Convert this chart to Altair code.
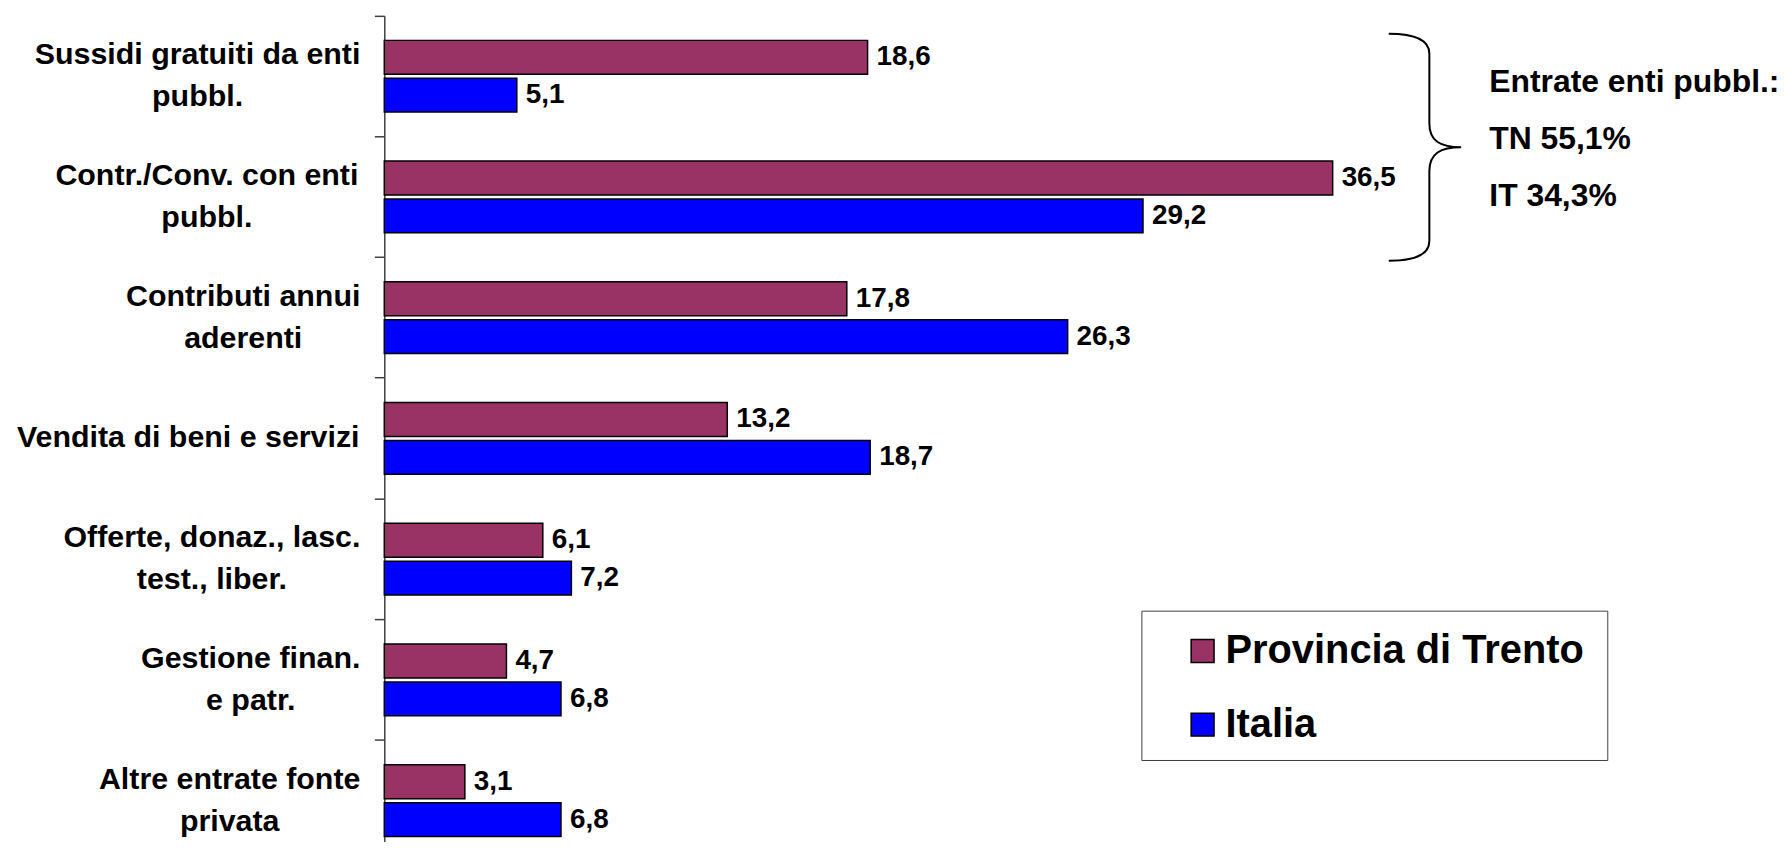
import altair as alt
import pandas as pd

# ---------------- data ----------------
categories = [
    "Sussidi gratuiti da enti\npubbl.",
    "Contr./Conv. con enti\npubbl.",
    "Contributi annui\naderenti",
    "Vendita di beni e servizi",
    "Offerte, donaz., lasc.\ntest., liber.",
    "Gestione finan.\ne patr.",
    "Altre entrate fonte\nprivata",
]
series = ["Provincia di Trento", "Italia"]
trento = [18.6, 36.5, 17.8, 13.2, 6.1, 4.7, 3.1]
italia = [5.1, 29.2, 26.3, 18.7, 7.2, 6.8, 6.8]
colors = ["#993366", "#0000FF"]
note_lines = ["Entrate enti pubbl.:", "TN 55,1%", "IT 34,3%"]

FONT = "Liberation Sans, Arial, Helvetica, sans-serif"

# Arial/Helvetica Bold advance widths (per 1000 em) used to centre the
# multi-line category labels as a block right-aligned against the axis
AW = {" ": 278, "%": 889, ",": 278, ".": 278, "/": 278, ":": 333,
      "A": 722, "B": 722, "C": 722, "D": 722, "E": 667, "F": 611, "G": 778,
      "H": 722, "I": 278, "L": 611, "N": 722, "O": 778, "P": 667, "S": 667,
      "T": 611, "V": 667,
      "a": 556, "b": 611, "c": 556, "d": 611, "e": 556, "f": 333, "g": 611,
      "h": 611, "i": 278, "j": 278, "k": 556, "l": 278, "m": 889, "n": 611,
      "o": 611, "p": 611, "q": 611, "r": 389, "s": 556, "t": 333, "u": 611,
      "v": 556, "w": 778, "x": 556, "y": 556, "z": 500}
for d in "0123456789":
    AW[d] = 556


def text_w(s, size):
    return sum(AW.get(c, 556) for c in s) * size / 1000.0


LABEL_SIZE = 30.5
LABEL_LH = 42
LABEL_GAP = 24  # distance between right edge of label block and axis

rows = []
for c, t, i in zip(categories, trento, italia):
    for s, v in zip(series, (t, i)):
        rows.append({"cat": c, "serie": s, "val": v,
                     "lab": f"{v:.1f}".replace(".", ",")})
df = pd.DataFrame(rows)

lab_df = pd.DataFrame({
    "cat": categories,
    "lx": [-LABEL_GAP - max(text_w(l, LABEL_SIZE) for l in c.split("\n")) / 2
           for c in categories],
    "nl": [len(c.split("\n")) for c in categories],
})

# ---------------- layout ----------------
W, H = 1397, 828
PX_PER_UNIT = 26.1
XMAX = W / PX_PER_UNIT
BAND_RANGE = 849

yscale = alt.Scale(domain=categories, paddingInner=0, paddingOuter=0,
                   range=[0, BAND_RANGE])
yaxis = alt.Axis(labels=False, title=None, bandPosition=0, tickSize=10,
                 tickColor="#404040", tickWidth=1.5, domainColor="#404040",
                 domainWidth=1.5, grid=False)
Y = alt.Y("cat:N", sort=categories, scale=yscale, axis=yaxis)
YO = alt.YOffset("serie:N", sort=series,
                 scale=alt.Scale(domain=series, paddingInner=0.105,
                                 paddingOuter=0.6485))
X = alt.X("val:Q", scale=alt.Scale(domain=[0, XMAX], nice=False, zero=True),
          axis=None)

legend = alt.Legend(orient="none", legendX=802, legendY=618, title=None,
                    direction="vertical", symbolType="square", symbolSize=529,
                    symbolStrokeColor="black", symbolStrokeWidth=1.5,
                    symbolOpacity=1, labelFontSize=40, labelFont=FONT,
                    labelFontWeight="bold", labelColor="black", labelOffset=3,
                    rowPadding=34, padding=0, labelLimit=0)

one = pd.DataFrame({"a": [0]})

box = alt.Chart(one).mark_rect(fill="white", stroke="#404040",
                               strokeWidth=1).encode(
    x=alt.value(761), x2=alt.value(1229), y=alt.value(598), y2=alt.value(748))

bars = alt.Chart(df).mark_bar(stroke="black", strokeWidth=1.5).encode(
    y=Y, yOffset=YO, x=X,
    color=alt.Color("serie:N", sort=series,
                    scale=alt.Scale(domain=series, range=colors),
                    legend=legend),
)

vals = alt.Chart(df).mark_text(align="left", baseline="middle", dx=9,
                               fontSize=28, fontWeight="bold", font=FONT,
                               color="black").encode(
    y=Y, yOffset=YO, x=X, text="lab:N")


def cat_layer(nlines):
    return alt.Chart(lab_df).transform_filter(
        alt.datum.nl == nlines
    ).mark_text(
        align="center", baseline="middle", lineBreak="\n",
        lineHeight=LABEL_LH, dy=-(nlines - 1) * LABEL_LH / 2,
        fontSize=LABEL_SIZE, fontWeight="bold", font=FONT,
        color="black").encode(
        y=Y, x=alt.X("lx:Q", scale=None), text="cat:N")


BRACE = ("M-0.338,-1 C-0.118,-1 0.02,-0.947 0.02,-0.825 "
         "L0.02,-0.21 C0.02,-0.053 0.12,0 0.3,0 "
         "C0.12,0 0.02,0.053 0.02,0.21 L0.02,0.825 "
         "C0.02,0.947 -0.118,1 -0.338,1")
brace = alt.Chart(one).mark_point(shape=BRACE, size=228 * 228, filled=False,
                                  color="black", strokeWidth=2,
                                  opacity=1).encode(
    x=alt.value(1047.5), y=alt.value(132))

note = alt.Chart(one).mark_text(text=note_lines, align="left",
                                baseline="alphabetic", lineHeight=57.5,
                                fontSize=32, fontWeight="bold", font=FONT,
                                color="black").encode(
    x=alt.value(1110), y=alt.value(76))

chart = alt.layer(box, bars, vals, cat_layer(1), cat_layer(2), brace,
                  note).properties(
    width=W, height=H,
    padding={"left": 378, "top": 6, "right": 4, "bottom": 0},
    autosize=alt.AutoSizeParams(type="none"),
    background="white",
).configure_view(stroke=None)

chart.save("out.html", embed_options={"renderer": "svg", "actions": False})
